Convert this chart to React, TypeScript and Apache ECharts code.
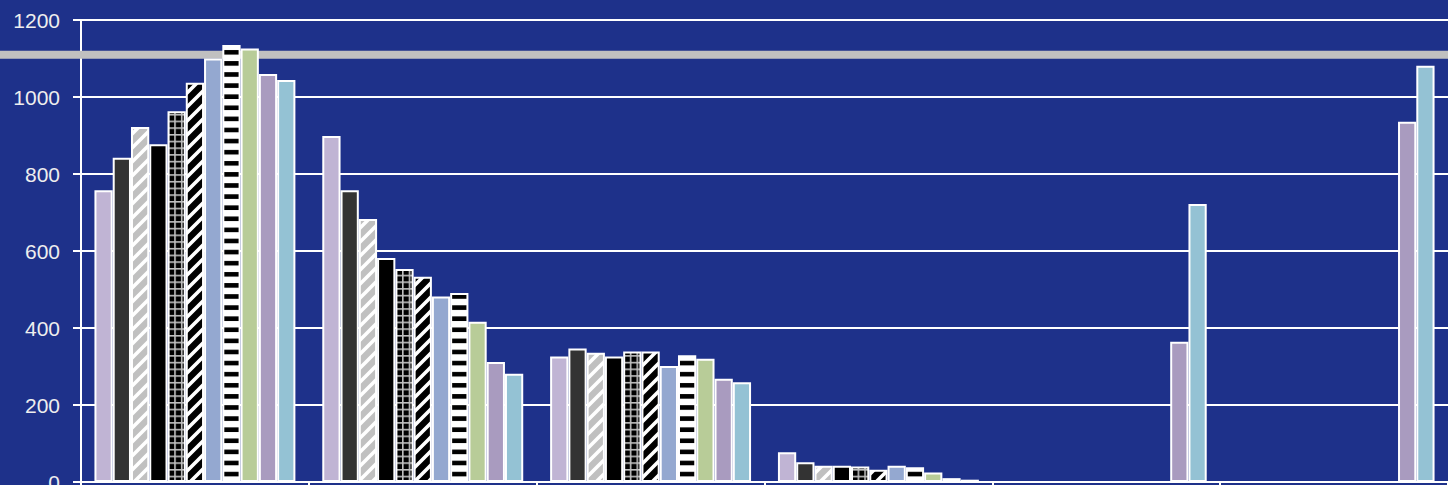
import React, { useEffect, useRef } from "react";
import * as echarts from "echarts";

const categories = ["G1", "G2", "G3", "G4", "G5", "G6"];
const yTicks = { min: 0, max: 1200, interval: 200 };
const refLineValue = 1110;

const s1 = [758, 899, 326, 77, null, null];
const s2 = [842, 758, 347, 51, null, null];
const s3 = [922, 683, 336, 42, null, null];
const s4 = [877, 582, 326, 42, null, null];
const s5 = [963, 553, 339, 40, null, null];
const s6 = [1037, 533, 339, 32, null, null];
const s7 = [1100, 482, 301, 42, null, null];
const s8 = [1135, 491, 329, 38, null, null];
const s9 = [1126, 416, 320, 25, null, null];
const s10 = [1060, 312, 268, 10, 364, 936];
const s11 = [1044, 281, 259, 6, 722, 1081];

const seriesValues = [s1, s2, s3, s4, s5, s6, s7, s8, s9, s10, s11];

function svgUrl(svg: string) {
  return "data:image/svg+xml;utf8," + encodeURIComponent(svg);
}

function hatch(bg: string, fg: string) {
  const p = 14;
  const svg = `<svg xmlns="http://www.w3.org/2000/svg" width="${p}" height="${p}" viewBox="0 0 ${p} ${p}"><rect width="${p}" height="${p}" fill="${bg}"/><path d="M0,${p} L${p},0 M${-p / 2},${p / 2} L${p / 2},${-p / 2} M${p / 2},${1.5 * p} L${1.5 * p},${p / 2}" stroke="${fg}" stroke-width="3.6" fill="none"/></svg>`;
  return { image: svgUrl(svg), repeat: "repeat", imageWidth: p, imageHeight: p };
}

function gridPattern() {
  const p = 6.7;
  const svg = `<svg xmlns="http://www.w3.org/2000/svg" width="${p}" height="${p}" viewBox="0 0 ${p} ${p}"><rect width="${p}" height="${p}" fill="#000"/><rect x="0" y="0" width="1.6" height="${p}" fill="#c0c0c0"/><rect x="0" y="0" width="${p}" height="1.6" fill="#c0c0c0"/></svg>`;
  return { image: svgUrl(svg), repeat: "repeat", imageWidth: p, imageHeight: p };
}

function hStripes() {
  const p = 11.1;
  const svg = `<svg xmlns="http://www.w3.org/2000/svg" width="${p}" height="${p}" viewBox="0 0 ${p} ${p}"><rect width="${p}" height="${p}" fill="#fff"/><rect x="0" y="5.6" width="${p}" height="4.6" fill="#000"/></svg>`;
  return { image: svgUrl(svg), repeat: "repeat", imageWidth: p, imageHeight: p };
}

const fills: any[] = [
  "#c0b4d4",
  "#333333",
  hatch("#c0c0c0", "#ffffff"),
  "#000000",
  gridPattern(),
  hatch("#000000", "#ffffff"),
  "#94a8d0",
  hStripes(),
  "#b8cc98",
  "#a99bbf",
  "#94c2d4",
];

export default function App() {
  const ref = useRef<HTMLDivElement>(null);
  useEffect(() => {
    document.body.style.margin = "0";
    if (!ref.current) return;
    const chart = echarts.init(ref.current, null, { renderer: "svg" });
    chart.setOption({
      animation: false,
      backgroundColor: "#1e318a",
      grid: {
        left: 81,
        right: 0,
        top: 20,
        bottom: 3,
        containLabel: false,
        outerBoundsMode: "none",
      },
      xAxis: {
        type: "category",
        data: categories,
        axisLine: { show: true, lineStyle: { color: "#ffffff", width: 2 } },
        axisTick: { show: true, length: 6, lineStyle: { color: "#ffffff", width: 2 } },
        axisLabel: { show: false },
        splitLine: { show: false },
      },
      yAxis: {
        type: "value",
        min: yTicks.min,
        max: yTicks.max,
        interval: yTicks.interval,
        axisLine: { show: true, lineStyle: { color: "#ffffff", width: 2 } },
        axisTick: { show: true, length: 8, lineStyle: { color: "#ffffff", width: 2 } },
        axisLabel: {
          color: "#eeeeee",
          fontSize: 21,
          fontFamily: "Liberation Sans, Arial, sans-serif",
          margin: 21,
          formatter: (v: number) => String(v),
        },
        splitLine: { show: true, lineStyle: { color: "#ffffff", width: 2 } },
      },
      series: seriesValues.map((vals, i) => ({
        type: "bar",
        name: "S" + (i + 1),
        data: vals,
        barGap: "0%",
        barCategoryGap: "11.8%",
        z: 2,
        itemStyle: { color: fills[i], borderColor: "#ffffff", borderWidth: 2 },
      })),
    });
    const y = chart.convertToPixel({ yAxisIndex: 0 }, refLineValue) as number;
    chart.setOption({
      graphic: [
        {
          type: "rect",
          z: 1,
          silent: true,
          shape: { x: 0, y: y - 4, width: 1448, height: 8 },
          style: { fill: "#c0c0c0" },
        },
      ],
    });
    return () => chart.dispose();
  }, []);
  return (
    <div
      ref={ref}
      style={{ position: "absolute", left: 0, top: 0, width: 1448, height: 485 }}
    />
  );
}
